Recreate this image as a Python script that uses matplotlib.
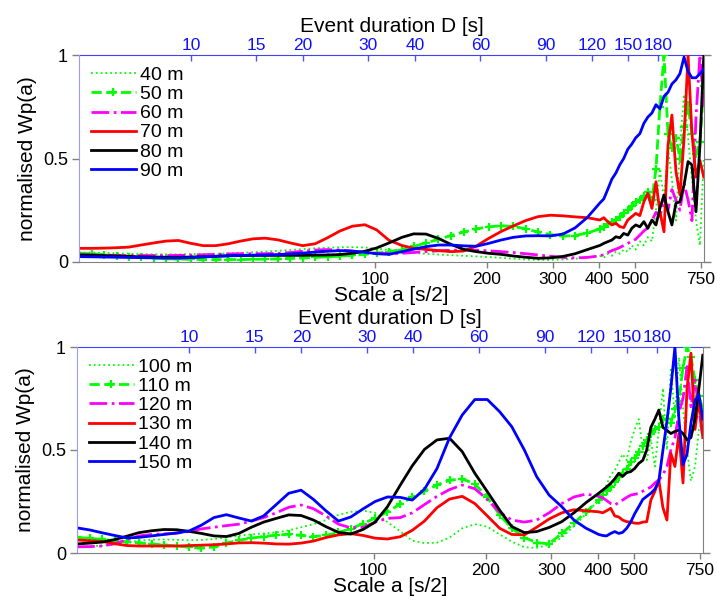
import matplotlib
matplotlib.use("Agg")
import matplotlib.pyplot as plt
from matplotlib.ticker import NullLocator, FixedLocator, FixedFormatter

plt.rcParams['font.family'] = ['Liberation Sans', 'DejaVu Sans']

# ---------------- data ----------------
scale_a = [16, 17.3, 18.7, 20.2, 21.8, 23.5, 25.4, 27.4, 29.6, 32, 34.5, 37.3, 40.3, 43.5, 47,
           50.7, 54.8, 59.2, 63.9, 69, 74.5, 80.5, 86.9, 93.9, 101, 109, 118, 127, 137, 148,
           160, 173, 187, 202, 218, 235, 254, 274, 296, 320, 345, 372, 402, 412, 422, 433,
           444, 455, 466, 478, 490, 502, 515, 528, 541, 555, 569, 583, 598, 613, 628, 644,
           660, 677, 694, 711, 729, 747, 765]

wp_40m = [0.046, 0.045, 0.044, 0.042, 0.040, 0.038, 0.037, 0.037, 0.037, 0.038,
          0.039, 0.040, 0.042, 0.044, 0.047, 0.050, 0.054, 0.058, 0.062, 0.066,
          0.069, 0.071, 0.072, 0.070, 0.065, 0.058, 0.050, 0.044, 0.040, 0.036,
          0.033, 0.030, 0.027, 0.024, 0.020, 0.016, 0.012, 0.010, 0.010, 0.012,
          0.016, 0.022, 0.030, 0.020, 0.040, 0.030, 0.050, 0.040, 0.060, 0.050,
          0.080, 0.060, 0.100, 0.080, 0.120, 0.100, 0.250, 0.450, 0.300, 0.550,
          0.400, 0.200, 0.550, 0.810, 0.600, 0.400, 0.200, 0.080, 0.500]
wp_50m = [0.042, 0.040, 0.035, 0.030, 0.026, 0.022, 0.019, 0.016, 0.014, 0.013,
          0.012, 0.012, 0.012, 0.012, 0.013, 0.014, 0.015, 0.017, 0.019, 0.022,
          0.025, 0.028, 0.032, 0.037, 0.043, 0.050, 0.060, 0.075, 0.092, 0.110,
          0.128, 0.145, 0.160, 0.170, 0.175, 0.172, 0.160, 0.145, 0.132, 0.125,
          0.128, 0.140, 0.160, 0.170, 0.185, 0.195, 0.205, 0.215, 0.235, 0.250,
          0.270, 0.290, 0.300, 0.320, 0.340, 0.300, 0.450, 0.750, 1.000, 0.620,
          0.550, 0.600, 0.500, 0.650, 0.760, 0.620, 0.520, 0.580, 0.850]
wp_60m = [0.035, 0.034, 0.033, 0.032, 0.031, 0.031, 0.031, 0.031, 0.032, 0.033,
          0.035, 0.037, 0.039, 0.040, 0.040, 0.040, 0.042, 0.046, 0.052, 0.058,
          0.060, 0.058, 0.052, 0.046, 0.042, 0.040, 0.042, 0.046, 0.050, 0.054,
          0.057, 0.058, 0.057, 0.054, 0.050, 0.046, 0.040, 0.034, 0.028, 0.022,
          0.020, 0.022, 0.030, 0.035, 0.045, 0.055, 0.062, 0.070, 0.080, 0.090,
          0.100, 0.110, 0.130, 0.150, 0.165, 0.200, 0.240, 0.220, 0.300, 0.250,
          0.350, 0.300, 0.250, 0.380, 0.300, 0.200, 0.700, 1.000, 0.750]
wp_70m = [0.066, 0.066, 0.067, 0.069, 0.072, 0.082, 0.092, 0.101, 0.104, 0.090,
          0.079, 0.079, 0.088, 0.101, 0.112, 0.115, 0.107, 0.092, 0.079, 0.088,
          0.117, 0.150, 0.173, 0.180, 0.155, 0.105, 0.080, 0.066, 0.061, 0.055,
          0.050, 0.053, 0.077, 0.114, 0.147, 0.174, 0.200, 0.219, 0.226, 0.223,
          0.218, 0.214, 0.203, 0.214, 0.195, 0.179, 0.187, 0.171, 0.166, 0.203,
          0.219, 0.235, 0.224, 0.291, 0.332, 0.259, 0.388, 0.243, 0.146, 0.565,
          0.710, 0.436, 0.324, 0.597, 1.000, 0.620, 0.410, 0.490, 0.410]
wp_80m = [0.034, 0.033, 0.031, 0.029, 0.027, 0.025, 0.024, 0.023, 0.023, 0.024,
          0.026, 0.028, 0.030, 0.031, 0.032, 0.032, 0.032, 0.032, 0.032, 0.033,
          0.034, 0.036, 0.042, 0.052, 0.068, 0.092, 0.119, 0.136, 0.135, 0.114,
          0.085, 0.061, 0.050, 0.042, 0.037, 0.029, 0.023, 0.018, 0.020, 0.027,
          0.040, 0.060, 0.080, 0.090, 0.098, 0.106, 0.122, 0.117, 0.138, 0.130,
          0.163, 0.179, 0.170, 0.195, 0.163, 0.203, 0.179, 0.259, 0.324, 0.243,
          0.179, 0.284, 0.291, 0.372, 0.485, 0.469, 0.243, 0.565, 1.000]
wp_90m = [0.026, 0.025, 0.024, 0.023, 0.022, 0.021, 0.020, 0.019, 0.019, 0.021,
          0.024, 0.027, 0.030, 0.032, 0.033, 0.034, 0.036, 0.039, 0.043, 0.048,
          0.052, 0.055, 0.053, 0.047, 0.040, 0.037, 0.050, 0.062, 0.074, 0.082,
          0.082, 0.078, 0.076, 0.090, 0.106, 0.119, 0.126, 0.127, 0.126, 0.135,
          0.165, 0.215, 0.285, 0.305, 0.350, 0.400, 0.430, 0.470, 0.500, 0.545,
          0.570, 0.600, 0.620, 0.670, 0.700, 0.720, 0.760, 0.740, 0.800, 0.820,
          0.860, 0.880, 0.910, 0.990, 0.920, 0.890, 0.890, 0.910, 0.930]

wp_100m = [0.030, 0.032, 0.036, 0.042, 0.050, 0.060, 0.065, 0.066, 0.064, 0.062,
           0.063, 0.068, 0.075, 0.085, 0.090, 0.095, 0.100, 0.110, 0.125, 0.140,
           0.160, 0.185, 0.200, 0.205, 0.195, 0.150, 0.105, 0.060, 0.048, 0.050,
           0.075, 0.120, 0.140, 0.128, 0.090, 0.055, 0.028, 0.025, 0.040, 0.075,
           0.130, 0.190, 0.260, 0.290, 0.330, 0.380, 0.400, 0.440, 0.480, 0.450,
           0.540, 0.600, 0.650, 0.500, 0.450, 0.550, 0.420, 0.600, 0.800, 0.500,
           0.900, 0.650, 0.950, 0.700, 0.500, 0.350, 0.420, 0.600, 0.650]
wp_110m = [0.076, 0.071, 0.066, 0.060, 0.055, 0.049, 0.044, 0.039, 0.034, 0.028,
           0.023, 0.030, 0.048, 0.062, 0.072, 0.080, 0.087, 0.091, 0.085, 0.080,
           0.085, 0.100, 0.118, 0.143, 0.170, 0.200, 0.238, 0.270, 0.300, 0.330,
           0.353, 0.360, 0.335, 0.270, 0.185, 0.120, 0.075, 0.050, 0.045, 0.095,
           0.145, 0.200, 0.255, 0.280, 0.300, 0.322, 0.345, 0.370, 0.390, 0.410,
           0.440, 0.460, 0.490, 0.520, 0.550, 0.580, 0.600, 0.614, 0.650, 0.650,
           0.630, 0.700, 0.740, 0.900, 1.000, 0.950, 0.840, 0.760, 0.700]
wp_120m = [0.030, 0.031, 0.034, 0.045, 0.065, 0.083, 0.090, 0.093, 0.096, 0.105,
           0.117, 0.125, 0.133, 0.140, 0.155, 0.172, 0.195, 0.222, 0.233, 0.215,
           0.180, 0.140, 0.122, 0.125, 0.150, 0.168, 0.172, 0.195, 0.235, 0.275,
           0.308, 0.330, 0.312, 0.260, 0.198, 0.160, 0.150, 0.160, 0.195, 0.240,
           0.272, 0.286, 0.275, 0.268, 0.255, 0.240, 0.233, 0.245, 0.257, 0.270,
           0.281, 0.285, 0.289, 0.300, 0.310, 0.320, 0.340, 0.355, 0.380, 0.420,
           0.500, 0.560, 0.680, 0.750, 0.905, 0.710, 0.840, 0.700, 0.560]
wp_130m = [0.063, 0.060, 0.056, 0.045, 0.036, 0.034, 0.034, 0.034, 0.034, 0.036,
           0.038, 0.040, 0.044, 0.049, 0.050, 0.048, 0.044, 0.043, 0.048, 0.058,
           0.075, 0.088, 0.094, 0.085, 0.072, 0.068, 0.079, 0.110, 0.155, 0.220,
           0.262, 0.275, 0.240, 0.180, 0.120, 0.090, 0.088, 0.125, 0.165, 0.195,
           0.210, 0.205, 0.200, 0.195, 0.205, 0.217, 0.180, 0.175, 0.160, 0.152,
           0.150, 0.145, 0.144, 0.150, 0.152, 0.257, 0.300, 0.354, 0.220, 0.160,
           0.484, 0.420, 0.580, 0.340, 0.800, 0.970, 0.600, 0.750, 0.560]
wp_140m = [0.044, 0.048, 0.053, 0.065, 0.082, 0.099, 0.108, 0.114, 0.113, 0.105,
           0.095, 0.083, 0.080, 0.095, 0.125, 0.150, 0.168, 0.185, 0.182, 0.160,
           0.128, 0.100, 0.092, 0.115, 0.150, 0.225, 0.330, 0.423, 0.503, 0.549,
           0.557, 0.492, 0.387, 0.298, 0.208, 0.128, 0.099, 0.104, 0.124, 0.152,
           0.195, 0.245, 0.290, 0.305, 0.320, 0.338, 0.360, 0.387, 0.372, 0.390,
           0.395, 0.410, 0.435, 0.450, 0.500, 0.610, 0.650, 0.694, 0.610, 0.595,
           0.580, 0.590, 0.597, 0.580, 0.550, 0.560, 0.650, 0.800, 0.960]
wp_150m = [0.122, 0.112, 0.098, 0.085, 0.073, 0.076, 0.083, 0.090, 0.097, 0.107,
           0.135, 0.172, 0.186, 0.170, 0.155, 0.180, 0.235, 0.290, 0.305, 0.260,
           0.205, 0.155, 0.175, 0.215, 0.250, 0.272, 0.270, 0.257, 0.310, 0.410,
           0.560, 0.670, 0.745, 0.745, 0.686, 0.613, 0.500, 0.371, 0.281, 0.225,
           0.160, 0.120, 0.090, 0.085, 0.083, 0.095, 0.104, 0.095, 0.100, 0.120,
           0.150, 0.190, 0.225, 0.260, 0.275, 0.290, 0.310, 0.350, 0.500, 0.640,
           0.800, 1.000, 0.650, 0.430, 0.480, 0.630, 0.740, 0.770, 0.650]

top_series = [wp_40m, wp_50m, wp_60m, wp_70m, wp_80m, wp_90m]
top_labels = ['40 m', '50 m', '60 m', '70 m', '80 m', '90 m']
bottom_series = [wp_100m, wp_110m, wp_120m, wp_130m, wp_140m, wp_150m]
bottom_labels = ['100 m', '110 m', '120 m', '130 m', '140 m', '150 m']

scale_ticks = [100, 200, 300, 400, 500, 750]
duration_ticks = [10, 15, 20, 30, 40, 60, 90, 120, 150, 180]
y_ticks = [0, 0.5, 1]
y_ticklabels = ['0', '0.5', '1']
D_PER_A = 1 / 3.2

# ---------------- styles ----------------
styles = [
    dict(color='#00ff00', linestyle=':', linewidth=1.3),
    dict(color='#00ff00', linestyle='--', linewidth=2.0, marker='+', markersize=6, markeredgewidth=1.6),
    dict(color='#ff00ff', linestyle='-.', linewidth=2.0),
    dict(color='#ff0000', linestyle='-', linewidth=2.0),
    dict(color='#000000', linestyle='-', linewidth=2.0),
    dict(color='#0000ff', linestyle='-', linewidth=2.0),
]

W, H = 717, 603
fig = plt.figure(figsize=(W / 100, H / 100), dpi=100)
ax_top = fig.add_axes([79 / W, 1 - 262 / H, 625 / W, 207 / H])
ax_bot = fig.add_axes([77 / W, 1 - 553 / H, 626 / W, 206 / H])


def draw(ax, series, labels):
    for vals, lab, st in zip(series, labels, styles):
        ax.plot(scale_a, vals, label=lab, **st)
    ax.set_xscale('log')
    ax.set_xlim(16, 766)
    ax.set_ylim(0, 1)
    ax.xaxis.set_major_locator(FixedLocator(scale_ticks))
    ax.xaxis.set_major_formatter(FixedFormatter([str(t) for t in scale_ticks]))
    ax.xaxis.set_minor_locator(NullLocator())
    ax.set_yticks(y_ticks, labels=y_ticklabels)
    ax.tick_params(axis='x', direction='out', length=4.5, width=1, color='#808080',
                   labelsize=12.5, pad=2.5, labelcolor='black')
    ax.tick_params(axis='y', direction='out', length=5, width=1, color='#808080',
                   labelsize=13, pad=3, right=True, labelcolor='black')
    ax.spines['top'].set_visible(False)
    ax.spines['left'].set_color('#9a9aff')
    ax.spines['bottom'].set_color('#808080')
    ax.spines['right'].set_color('#808080')
    ax.set_xlabel('Scale a [s/2]', fontsize=15, labelpad=-0.5)
    ax.set_ylabel('normalised Wp(a)', fontsize=15, labelpad=4)

    sec = ax.secondary_xaxis('top', functions=(lambda a: a * D_PER_A, lambda d: d / D_PER_A))
    sec.set_xticks(duration_ticks, labels=[str(t) for t in duration_ticks])
    sec.xaxis.set_minor_locator(NullLocator())
    sec.tick_params(direction='in', length=4, width=1, color='#5050ff',
                    labelcolor='#1010ff', labelsize=12.5, pad=1.5)
    sec.spines['top'].set_color('#4040ff')
    sec.set_xlabel('Event duration D [s]', fontsize=15, labelpad=4)

    ax.legend(loc='upper left', bbox_to_anchor=(0.019, 0.945), frameon=False,
              fontsize=14, handlelength=2.3, handletextpad=0.25, labelspacing=0.08,
              borderaxespad=0, borderpad=0)


draw(ax_top, top_series, top_labels)
draw(ax_bot, bottom_series, bottom_labels)

fig.savefig('out.png', dpi=100, facecolor='white')
